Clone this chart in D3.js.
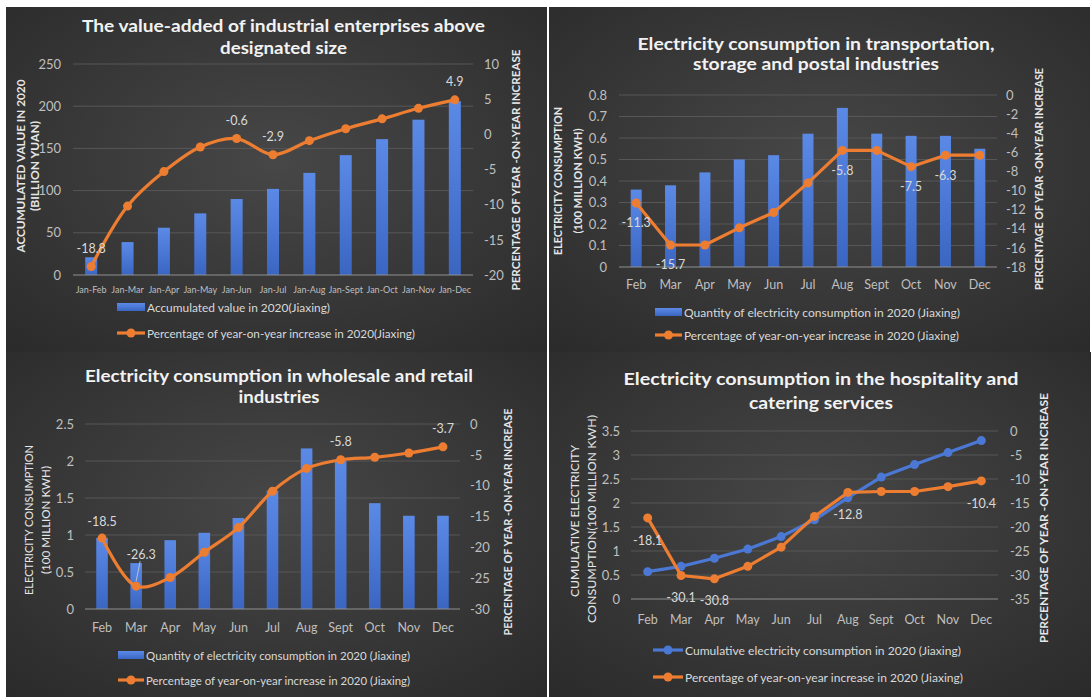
<!DOCTYPE html>
<html>
<head>
<meta charset="utf-8">
<script src="https://cdn.jsdelivr.net/npm/d3@7"></script>
<style>
  html, body { margin: 0; padding: 0; background: #ffffff; }
  svg { display: block; }
  text { font-family: Lato, "Open Sans", sans-serif; }
</style>
</head>
<body>
<svg id="chart" width="1091" height="697"></svg>
<script>
// ---------------- DATA ----------------
const p1Categories = ["Jan-Feb","Jan-Mar","Jan-Apr","Jan-May","Jan-Jun","Jan-Jul","Jan-Aug","Jan-Sept","Jan-Oct","Jan-Nov","Jan-Dec"];
const p1Values = [21, 39, 56, 73, 90, 102, 121, 142, 161, 184, 206];
const p1Pct = [-18.8, -10.2, -5.3, -1.8, -0.6, -2.9, -0.9, 0.8, 2.2, 3.7, 4.9];
const p1LabelIdx = [0, 4, 5, 10];
const p1LeftTicks = [0, 50, 100, 150, 200, 250];
const p1RightTicks = [-20, -15, -10, -5, 0, 5, 10];

const months = ["Feb","Mar","Apr","May","Jun","Jul","Aug","Sept","Oct","Nov","Dec"];

const p2Values = [0.36, 0.38, 0.44, 0.50, 0.52, 0.62, 0.74, 0.62, 0.61, 0.61, 0.55];
const p2Pct = [-11.3, -15.7, -15.7, -13.9, -12.3, -9.2, -5.8, -5.8, -7.5, -6.3, -6.3];
const p2LabelIdx = [0, 1, 6, 8, 9];
const p2LeftTicks = [0, 0.1, 0.2, 0.3, 0.4, 0.5, 0.6, 0.7, 0.8];
const p2RightTicks = [-18, -16, -14, -12, -10, -8, -6, -4, -2, 0];

const p3Values = [0.96, 0.62, 0.93, 1.03, 1.23, 1.60, 2.17, 2.00, 1.43, 1.26, 1.26];
const p3Pct = [-18.5, -26.3, -24.9, -20.8, -16.8, -10.9, -7.2, -5.8, -5.4, -4.7, -3.7];
const p3LabelIdx = [0, 1, 7, 10];
const p3LeftTicks = [0, 0.5, 1, 1.5, 2, 2.5];
const p3RightTicks = [-30, -25, -20, -15, -10, -5, 0];

const p4Values = [0.57, 0.68, 0.85, 1.04, 1.30, 1.65, 2.11, 2.54, 2.80, 3.05, 3.30];
const p4Pct = [-18.1, -30.1, -30.8, -28.2, -24.2, -17.8, -12.8, -12.6, -12.6, -11.6, -10.4];
const p4LabelIdx = [0, 1, 2, 6, 10];
const p4LeftTicks = [0, 0.5, 1, 1.5, 2, 2.5, 3, 3.5];
const p4RightTicks = [-35, -30, -25, -20, -15, -10, -5, 0];

// ---------------- DRAWING ----------------
const svg = d3.select("#chart");
const defs = svg.append("defs");

const rg = defs.append("radialGradient").attr("id", "bg").attr("cx", "50%").attr("cy", "45%").attr("r", "75%");
rg.append("stop").attr("offset", "0%").attr("stop-color", "#474747");
rg.append("stop").attr("offset", "100%").attr("stop-color", "#2a2a2a");

const bg = defs.append("linearGradient").attr("id", "barGrad").attr("x1", 0).attr("x2", 0).attr("y1", 0).attr("y2", 1);
bg.append("stop").attr("offset", "0%").attr("stop-color", "#5b8ae6");
bg.append("stop").attr("offset", "100%").attr("stop-color", "#3a66c2");

const ORANGE = "#ED7D31";
const BLUE = "#4A78D4";
const TICK = "#bfbfbf";
const LABEL = "#d9d9d9";
const fmt = d => String(d);

function drawPanel(cfg) {
  const g = svg.append("g");
  g.append("rect").attr("x", cfg.box[0]).attr("y", cfg.box[1])
    .attr("width", cfg.box[2]).attr("height", cfg.box[3]).attr("fill", "url(#bg)");

  // titles
  cfg.title.forEach(t => {
    g.append("text").attr("x", t.cx).attr("y", t.y)
      .attr("text-anchor", "middle").attr("dominant-baseline", "central")
      .attr("font-size", 17).attr("font-weight", 700).attr("fill", "#f2f2f2")
      .attr("textLength", t.w).attr("lengthAdjust", "spacingAndGlyphs")
      .text(t.text);
  });

  const x = d3.scaleBand().domain(cfg.cats).range(cfg.xr).paddingInner(cfg.pad).paddingOuter(cfg.pad / 2);
  const cx = d => x(d) + x.bandwidth() / 2;
  const yL = d3.scaleLinear().domain([cfg.leftTicks[0], cfg.leftTicks[cfg.leftTicks.length - 1]]).range(cfg.yr);
  const yR = d3.scaleLinear().domain([cfg.rightTicks[0], cfg.rightTicks[cfg.rightTicks.length - 1]]).range(cfg.yr);

  // gridlines
  g.append("g").selectAll("line").data(cfg.leftTicks.slice(1)).join("line")
    .attr("x1", cfg.xr[0]).attr("x2", cfg.xr[1])
    .attr("y1", d => yL(d)).attr("y2", d => yL(d))
    .attr("stroke", "#575757").attr("stroke-width", 1);

  // left axis
  const la = g.append("g").attr("transform", `translate(${cfg.leftLabelX},0)`)
    .call(d3.axisLeft(yL).tickValues(cfg.leftTicks).tickSize(0).tickPadding(0).tickFormat(fmt));
  la.select(".domain").remove();
  la.selectAll("text").attr("fill", TICK).attr("font-size", cfg.tickFs);

  // right axis
  const ra = g.append("g").attr("transform", `translate(${cfg.rightLabelX},0)`)
    .call(d3.axisRight(yR).tickValues(cfg.rightTicks).tickSize(0).tickPadding(0).tickFormat(fmt));
  ra.select(".domain").remove();
  ra.selectAll("text").attr("fill", TICK).attr("font-size", cfg.tickFs);

  // x axis labels
  const xa = g.append("g").attr("transform", `translate(0,${cfg.xLabelY})`)
    .call(d3.axisBottom(x).tickSize(0).tickPadding(0));
  xa.select(".domain").remove();
  xa.selectAll("text").attr("fill", TICK).attr("font-size", cfg.xFs).attr("dy", null)
    .attr("dominant-baseline", "central");

  // axis titles
  cfg.leftTitle.forEach(t => {
    g.append("text").attr("transform", `translate(${t.x},${t.cy}) rotate(-90)`)
      .attr("text-anchor", "middle").attr("dominant-baseline", "central")
      .attr("font-size", cfg.axTitleFs).attr("font-weight", cfg.leftTitleWeight || 700)
      .attr("fill", "#e6e6e6").attr("textLength", t.w).attr("lengthAdjust", "spacingAndGlyphs").text(t.text);
  });
  g.append("text").attr("transform", `translate(${cfg.rightTitle.x},${cfg.rightTitle.cy}) rotate(-90)`)
    .attr("text-anchor", "middle").attr("dominant-baseline", "central")
    .attr("font-size", cfg.axTitleFs).attr("font-weight", 700)
    .attr("fill", "#e6e6e6").attr("textLength", cfg.rightTitle.w).attr("lengthAdjust", "spacingAndGlyphs")
    .text(cfg.rightTitle.text);

  // bars
  if (cfg.bars) {
    g.append("g").selectAll("rect").data(cfg.bars).join("rect")
      .attr("x", (d, i) => x(cfg.cats[i])).attr("width", x.bandwidth())
      .attr("y", d => yL(d)).attr("height", d => yL(0) - yL(d))
      .attr("fill", "url(#barGrad)");
  }

  // baseline
  g.append("line").attr("x1", cfg.xr[0]).attr("x2", cfg.xr[1])
    .attr("y1", cfg.yr[0]).attr("y2", cfg.yr[0]).attr("stroke", "#8f8f8f").attr("stroke-width", 1.2);

  // blue line (panel 4)
  if (cfg.blueLine) {
    const lineB = d3.line().x((d, i) => cx(cfg.cats[i])).y(d => yL(d));
    g.append("path").attr("d", lineB(cfg.blueLine)).attr("fill", "none")
      .attr("stroke", BLUE).attr("stroke-width", 3.2).attr("stroke-linejoin", "round");
    g.append("g").selectAll("circle").data(cfg.blueLine).join("circle")
      .attr("cx", (d, i) => cx(cfg.cats[i])).attr("cy", d => yL(d)).attr("r", 4.5).attr("fill", BLUE);
  }

  // orange line
  const lineO = d3.line().x((d, i) => cx(cfg.cats[i])).y(d => yR(d))
    .curve(cfg.smooth ? d3.curveCatmullRom.alpha(0.5) : d3.curveLinear);
  g.append("path").attr("d", lineO(cfg.pct)).attr("fill", "none")
    .attr("stroke", ORANGE).attr("stroke-width", 3.2).attr("stroke-linejoin", "round");
  g.append("g").selectAll("circle").data(cfg.pct).join("circle")
    .attr("cx", (d, i) => cx(cfg.cats[i])).attr("cy", d => yR(d)).attr("r", 4.5).attr("fill", ORANGE);

  // leader lines
  (cfg.leaders || []).forEach(i => {
    g.append("line").attr("x1", cx(cfg.cats[i]) + 4).attr("y1", yR(cfg.pct[i]) + cfg.labelDy[i] + 7)
      .attr("x2", cx(cfg.cats[i])).attr("y2", yR(cfg.pct[i]) - 5)
      .attr("stroke", "#d0d0d0").attr("stroke-width", 0.8);
  });

  // data labels
  g.append("g").selectAll("text").data(cfg.labelIdx).join("text")
    .attr("x", i => cx(cfg.cats[i]) + (cfg.labelDx ? (cfg.labelDx[i] || 0) : 0))
    .attr("y", i => yR(cfg.pct[i]) + cfg.labelDy[i])
    .attr("text-anchor", "middle").attr("dominant-baseline", "central")
    .attr("font-size", 12.5).attr("fill", LABEL)
    .text(i => fmt(cfg.pct[i]));

  // legend
  cfg.legend.forEach(l => {
    if (l.type === "bar") {
      g.append("rect").attr("x", l.x).attr("y", l.y - 4).attr("width", l.w).attr("height", 8).attr("fill", "url(#barGrad)");
    } else {
      g.append("line").attr("x1", l.x).attr("x2", l.x + l.w).attr("y1", l.y).attr("y2", l.y)
        .attr("stroke", l.color).attr("stroke-width", 3.2);
      g.append("circle").attr("cx", l.x + l.w / 2).attr("cy", l.y).attr("r", 4.5).attr("fill", l.color);
    }
    g.append("text").attr("x", l.x + l.w + 2).attr("y", l.y).attr("dominant-baseline", "central")
      .attr("font-size", 12).attr("fill", LABEL).attr("textLength", l.tw).attr("lengthAdjust", "spacingAndGlyphs")
      .text(l.text);
  });
}

// Panel 1
drawPanel({
  box: [6, 7, 541, 345],
  title: [
    { text: "The value-added of industrial enterprises above", cx: 283.5, y: 25, w: 403 },
    { text: "designated size", cx: 283.5, y: 47, w: 127 }
  ],
  cats: p1Categories, xr: [73, 473], pad: 0.67,
  yr: [275, 64], leftTicks: p1LeftTicks, rightTicks: p1RightTicks,
  leftLabelX: 61, rightLabelX: 484, tickFs: 13, xLabelY: 289, xFs: 9,
  axTitleFs: 11.5,
  leftTitle: [
    { text: "ACCUMULATED VALUE IN 2020", x: 20, cy: 166, w: 173 },
    { text: "(BILLION YUAN)", x: 34, cy: 166, w: 90 }
  ],
  rightTitle: { text: "PERCENTAGE OF YEAR -ON-YEAR INCREASE", x: 515, cy: 170, w: 241 },
  bars: p1Values, pct: p1Pct, smooth: true,
  labelIdx: p1LabelIdx, labelDy: { 0: -18, 4: -18, 5: -18, 10: -18 },
  legend: [
    { type: "bar", x: 117, y: 307, w: 28, text: "Accumulated value in 2020(Jiaxing)", tw: 183 },
    { type: "line", color: ORANGE, x: 117, y: 333, w: 28, text: "Percentage of year-on-year increase in 2020(Jiaxing)", tw: 268 }
  ]
});

// Panel 2
drawPanel({
  box: [549, 7, 541, 345],
  title: [
    { text: "Electricity consumption in transportation,", cx: 816, y: 43, w: 357 },
    { text: "storage and postal industries", cx: 816, y: 63, w: 246 }
  ],
  cats: months, xr: [619, 997], pad: 0.68,
  yr: [267, 95], leftTicks: p2LeftTicks, rightTicks: p2RightTicks,
  leftLabelX: 607, rightLabelX: 1006, tickFs: 13, xLabelY: 284, xFs: 12.5,
  axTitleFs: 11,
  leftTitle: [
    { text: "ELECTRICITY CONSUMPTION", x: 557, cy: 181, w: 148 },
    { text: "(100 MILLION KWH)", x: 577, cy: 181, w: 105 }
  ],
  rightTitle: { text: "PERCENTAGE OF YEAR -ON-YEAR INCREASE", x: 1038, cy: 179, w: 222 },
  bars: p2Values, pct: p2Pct, smooth: false,
  labelIdx: p2LabelIdx, labelDy: { 0: 20, 1: 19, 6: 20, 8: 20, 9: 20 },
  legend: [
    { type: "bar", x: 655, y: 312, w: 27, text: "Quantity of electricity consumption in 2020 (Jiaxing)", tw: 276 },
    { type: "line", color: ORANGE, x: 655, y: 335, w: 27, text: "Percentage of year-on-year increase in 2020 (Jiaxing)", tw: 275 }
  ]
});

// Panel 3
drawPanel({
  box: [6, 352, 541, 345],
  title: [
    { text: "Electricity consumption in wholesale and retail", cx: 279, y: 375, w: 388 },
    { text: "industries", cx: 279, y: 396, w: 81 }
  ],
  cats: months, xr: [85, 460], pad: 0.66,
  yr: [609, 424], leftTicks: p3LeftTicks, rightTicks: p3RightTicks,
  leftLabelX: 74, rightLabelX: 470, tickFs: 13, xLabelY: 627, xFs: 12.5,
  axTitleFs: 11, leftTitleWeight: 400,
  leftTitle: [
    { text: "ELECTRICITY CONSUMPTION", x: 28, cy: 520, w: 150 },
    { text: "(100 MILLION KWH)", x: 45, cy: 520, w: 108 }
  ],
  rightTitle: { text: "PERCENTAGE OF YEAR -ON-YEAR INCREASE", x: 507, cy: 522, w: 227 },
  bars: p3Values, pct: p3Pct, smooth: true,
  labelIdx: p3LabelIdx, labelDy: { 0: -17, 1: -32, 7: -18, 10: -18 }, labelDx: { 1: 5 },
  leaders: [1],
  legend: [
    { type: "bar", x: 118, y: 655, w: 26, text: "Quantity of electricity consumption in 2020 (Jiaxing)", tw: 264 },
    { type: "line", color: ORANGE, x: 118, y: 680, w: 26, text: "Percentage of year-on-year increase in 2020 (Jiaxing)", tw: 264 }
  ]
});

// Panel 4
drawPanel({
  box: [549, 352, 542, 345],
  title: [
    { text: "Electricity consumption in the hospitality and", cx: 821, y: 378, w: 395 },
    { text: "catering services", cx: 821, y: 402, w: 144 }
  ],
  cats: months, xr: [631, 998], pad: 0.66,
  yr: [599, 431], leftTicks: p4LeftTicks, rightTicks: p4RightTicks,
  leftLabelX: 620, rightLabelX: 1010, tickFs: 13, xLabelY: 619, xFs: 12.5,
  axTitleFs: 11, leftTitleWeight: 400,
  leftTitle: [
    { text: "CUMULATIVE ELECTRICITY", x: 574, cy: 521, w: 152 },
    { text: "CONSUMPTION(100 MILLION KWH)", x: 591, cy: 519, w: 208 }
  ],
  rightTitle: { text: "PERCENTAGE OF YEAR -ON-YEAR INCREASE", x: 1043, cy: 518, w: 250 },
  blueLine: p4Values, pct: p4Pct, smooth: false,
  labelIdx: p4LabelIdx, labelDy: { 0: 23, 1: 22, 2: 22, 6: 22, 10: 23 },
  legend: [
    { type: "line", color: BLUE, x: 653, y: 650, w: 30, text: "Cumulative electricity consumption in 2020 (Jiaxing)", tw: 276 },
    { type: "line", color: ORANGE, x: 653, y: 677, w: 30, text: "Percentage of year-on-year increase in 2020 (Jiaxing)", tw: 278 }
  ]
});
</script>
</body>
</html>
